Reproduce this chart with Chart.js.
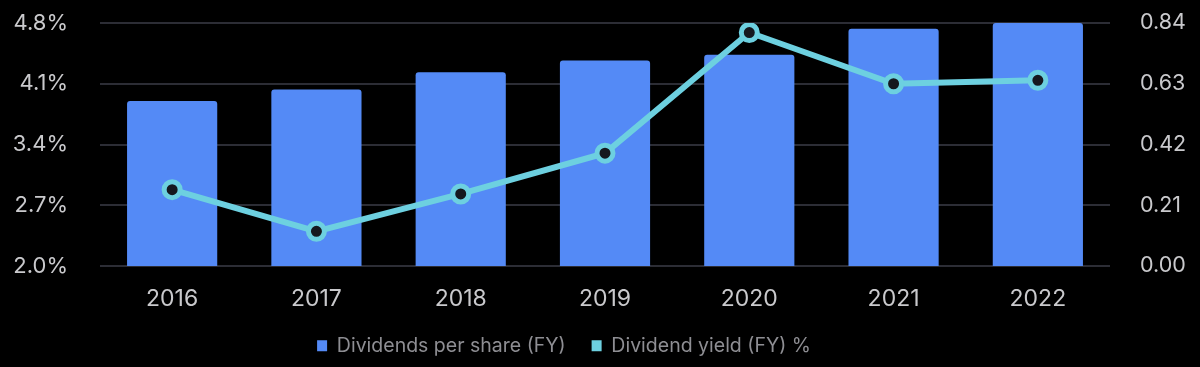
<!DOCTYPE html>
<html>
<head>
<meta charset="utf-8">
<script src="https://cdn.jsdelivr.net/npm/chart.js@4"></script>
<style>
  html, body { margin: 0; padding: 0; background: #000; }
  #wrap { width: 1200px; height: 367px; }
</style>
</head>
<body>
<div id="wrap"><canvas id="divChart"></canvas></div>
<script>
const years = ['2016', '2017', '2018', '2019', '2020', '2021', '2022'];
const dividendsPerShare = [0.57, 0.61, 0.67, 0.71, 0.73, 0.82, 0.84];
const dividendYield = [2.88, 2.40, 2.83, 3.30, 4.69, 4.10, 4.14];
const yieldTicks = [2.0, 2.7, 3.4, 4.1, 4.8];
const dpsTicks = [0.00, 0.21, 0.42, 0.63, 0.84];

const gridColor = '#2c2d35';
const tickColor = '#c9c9cc';
const fontFamily = 'Inter, "Noto Sans", sans-serif';

// vertical axes: fixed widths, no extra top/bottom padding from tick labels
function fixAxis(width) {
  return (scale) => {
    scale.width = width;
    scale.paddingTop = 0;
    scale.paddingBottom = 0;
  };
}

// the legend sits a bit left of centre in the original
const legendShift = {
  id: 'legendShift',
  afterLayout(chart) {
    chart.legend.right -= 72;
  }
};

let ctx = document.getElementById('divChart');

let divChart = new Chart(ctx, {
  type: 'bar',
  data: {
    labels: years,
    datasets: [
      {
        type: 'bar',
        label: 'Dividends per share (FY)',
        data: dividendsPerShare,
        yAxisID: 'yRight',
        backgroundColor: '#548af6',
        borderRadius: { topLeft: 3, topRight: 3 },
        borderSkipped: 'bottom',
        categoryPercentage: 1,
        barPercentage: 0.625,
        order: 2
      },
      {
        type: 'line',
        label: 'Dividend yield (FY) %',
        data: dividendYield,
        yAxisID: 'yLeft',
        borderColor: '#6dd0e0',
        backgroundColor: '#6dd0e0',
        borderWidth: 6,
        pointRadius: 8,
        pointHoverRadius: 8,
        pointBorderWidth: 5,
        pointBackgroundColor: '#15181f',
        pointBorderColor: '#6dd0e0',
        tension: 0,
        order: 1
      }
    ]
  },
  plugins: [legendShift],
  options: {
    responsive: true,
    maintainAspectRatio: false,
    animation: false,
    layout: { padding: { top: 23, bottom: 1.5, left: 0, right: 0 } },
    plugins: {
      tooltip: { enabled: false },
      legend: {
        position: 'bottom',
        labels: {
          color: '#8e8e93',
          font: { family: fontFamily, size: 19.5 },
          boxWidth: 10,
          boxHeight: 11,
          padding: 26,
          sort: (a, b) => a.datasetIndex - b.datasetIndex,
          generateLabels: (chart) => chart.data.datasets.map((ds, i) => ({
            text: ds.label,
            fillStyle: i === 0 ? '#548af6' : '#6dd0e0',
            strokeStyle: 'transparent',
            lineWidth: 0,
            fontColor: '#8e8e93',
            datasetIndex: i
          }))
        }
      }
    },
    scales: {
      x: {
        afterFit: (scale) => { scale.height = 44; },
        grid: { display: false, drawTicks: false },
        border: { display: false },
        ticks: { color: tickColor, font: { family: fontFamily, size: 23, lineHeight: 1 }, padding: 22 }
      },
      yLeft: {
        position: 'left',
        min: 2.0,
        max: 4.8,
        afterBuildTicks: (scale) => { scale.ticks = yieldTicks.map((v) => ({ value: v })); },
        afterFit: fixAxis(100),
        grid: { color: gridColor, lineWidth: 2, drawTicks: false },
        border: { display: false },
        ticks: {
          color: tickColor,
          font: { family: fontFamily, size: 22 },
          padding: 32,
          callback: (v) => v.toFixed(1) + '%'
        }
      },
      yRight: {
        position: 'right',
        min: 0,
        max: 0.84,
        afterBuildTicks: (scale) => { scale.ticks = dpsTicks.map((v) => ({ value: v })); },
        afterFit: fixAxis(90),
        grid: { display: false, drawTicks: false },
        border: { display: false },
        ticks: {
          color: tickColor,
          font: { family: fontFamily, size: 21.5 },
          padding: 30,
          callback: (v) => v.toFixed(2)
        }
      }
    }
  }
});
</script>
</body>
</html>
